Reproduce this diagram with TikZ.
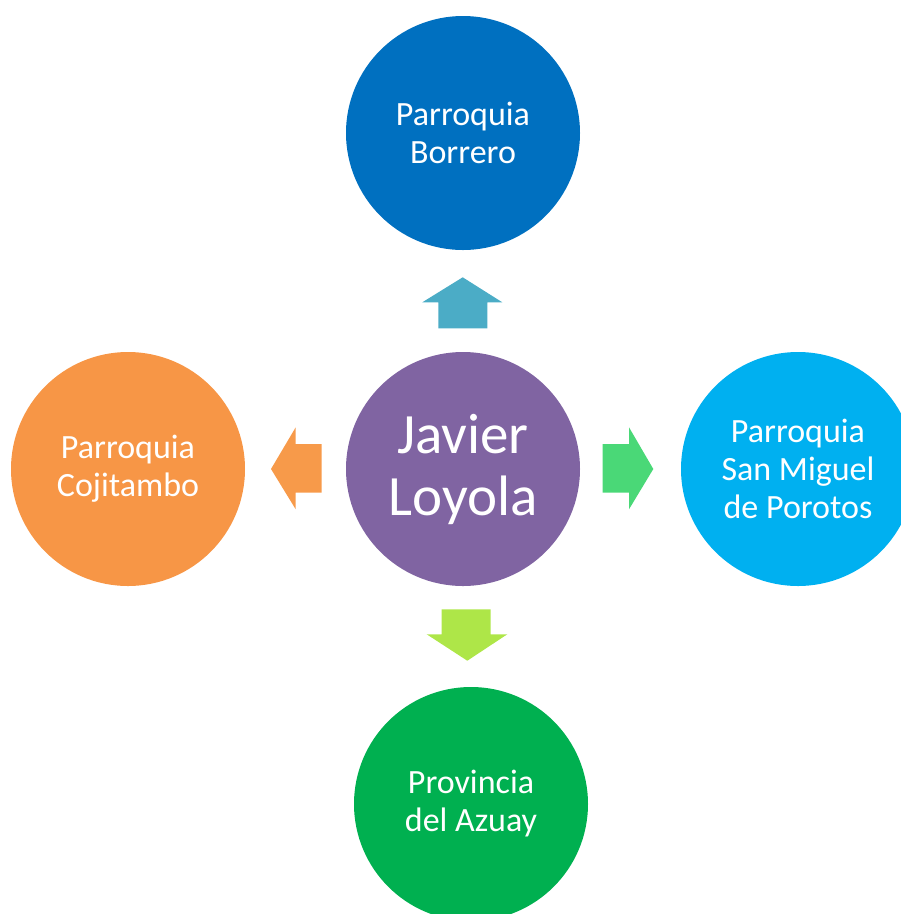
\documentclass[tikz,border=0pt]{standalone}
\usepackage{fontspec}
\setmainfont{Carlito}
\definecolor{cTop}{HTML}{0070C0}
\definecolor{cMid}{HTML}{8064A2}
\definecolor{cLeft}{HTML}{F79646}
\definecolor{cRight}{HTML}{00B0F0}
\definecolor{cBot}{HTML}{00B050}
\definecolor{aUp}{HTML}{4BACC6}
\definecolor{aLeft}{HTML}{F79A4A}
\definecolor{aRight}{HTML}{4AD877}
\definecolor{aDown}{HTML}{AEE648}
\tikzset{
  bubble/.style={circle, minimum size=234pt, inner sep=0pt, text=white, align=center,
    font=\fontsize{34}{38}\selectfont},
  bigbubble/.style={bubble, font=\fontsize{57}{62}\selectfont},
}
\begin{document}
\begin{tikzpicture}[x=1pt,y=-1pt]
\useasboundingbox (0,0) rectangle (901,914);
\begin{scope}
\clip (0,0) rectangle (901,914);
\node[bubble, fill=cTop] (top) at (463,133) {Parroquia\\Borrero};
\node[bigbubble, fill=cMid] (mid) at (463,469) {Javier\\Loyola};
\node[bubble, fill=cLeft] (left) at (128,469) {Parroquia\\Cojitambo};
\node[bubble, fill=cRight] (right) at (798,469) {Parroquia\\San Miguel\\de Porotos};
\node[bubble, fill=cBot] (bot) at (471,804) {Provincia\\del Azuay};
\end{scope}
% up arrow
\fill[aUp] (462.7,277.3) -- (502.3,302.3) -- (487.3,302.3) -- (487.3,328.3) -- (438.3,328.3) -- (438.3,302.3) -- (422.3,302.3) -- cycle;
% left arrow
\fill[aLeft] (271,469) -- (295.7,427.3) -- (295.7,444) -- (321.7,444) -- (321.7,492.5) -- (295.7,492.5) -- (295.7,509.3) -- cycle;
% right arrow
\fill[aRight] (653.3,469) -- (629,427.3) -- (629,444) -- (602.7,444) -- (602.7,492.5) -- (629,492.5) -- (629,509.3) -- cycle;
% down arrow
\fill[aDown] (467.3,660.7) -- (507.3,634.3) -- (490.7,634.3) -- (490.7,609.3) -- (441.7,609.3) -- (441.7,634.3) -- (426.7,634.3) -- cycle;
\end{tikzpicture}
\end{document}
